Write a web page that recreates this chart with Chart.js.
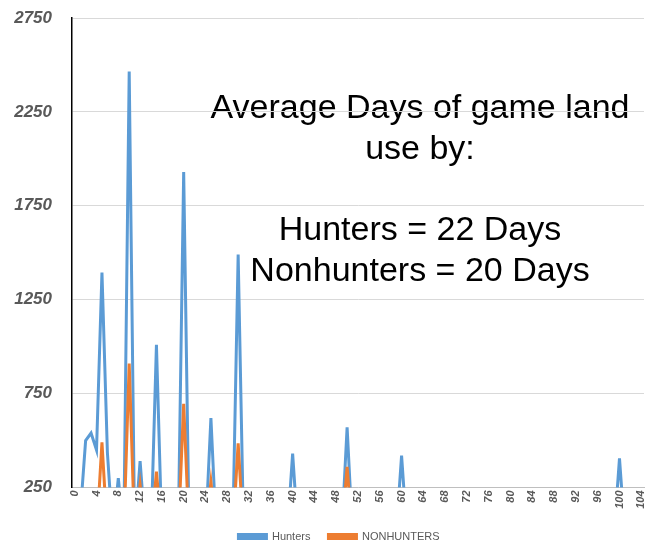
<!DOCTYPE html>
<html>
<head>
<meta charset="utf-8">
<script src="https://cdn.jsdelivr.net/npm/chart.js@4.4.1/dist/chart.umd.min.js"></script>
<style>
  html, body { margin: 0; padding: 0; background: #ffffff; }
  #wrap { width: 646px; height: 546px; position: relative; }
</style>
</head>
<body>
<div id="wrap"><canvas id="c" width="646" height="546"></canvas></div>
<script>
const categories = [0,1,2,3,4,5,6,7,8,9,10,11,12,13,14,15,16,17,18,19,20,21,22,23,24,25,26,27,28,29,30,31,32,33,34,35,36,37,38,39,40,41,42,43,44,45,46,47,48,49,50,51,52,53,54,55,56,57,58,59,60,61,62,63,64,65,66,67,68,69,70,71,72,73,74,75,76,77,78,79,80,81,82,83,84,85,86,87,88,89,90,91,92,93,94,95,96,97,98,99,100,101,102,103,104];

const hunters = [0,100,500,540,450,1395,435,0,300,0,2465,0,390,0,0,1010,0,0,0,0,1930,0,0,0,0,620,0,0,0,0,1490,0,0,0,0,0,0,0,0,0,430,0,0,0,0,0,0,0,0,0,570,0,0,0,0,0,0,0,0,0,420,0,0,0,0,0,0,0,0,0,0,0,0,0,0,0,0,0,0,0,0,0,0,0,0,0,0,0,0,0,0,0,0,0,0,0,0,0,0,0,405,0,0,0,0];

const nonhunters = [0,0,0,0,0,490,0,0,0,0,910,0,265,0,0,335,0,0,0,0,695,0,0,0,0,280,0,0,0,0,485,0,0,0,0,0,0,0,0,0,0,0,0,0,0,0,0,0,0,0,360,0,0,0,0,0,0,0,0,0,0,0,0,0,0,0,0,0,0,0,0,0,0,0,0,0,0,0,0,0,0,0,0,0,0,0,0,0,0,0,0,0,0,0,0,0,0,0,0,0,0,0,0,0,0];

const yTicks = [250, 750, 1250, 1750, 2250, 2750];

const noteLines = ["Average Days of game land", "use by:", "", "Hunters = 22 Days", "Nonhunters = 20 Days"];
const noteBaselines = [118, 158.5, 199, 240, 280.5];

const notePlugin = {
  id: 'note',
  afterLayout(chart) {
    if (chart.legend) { chart.legend.left += 17; chart.legend.right += 17; }
  },
  beforeDraw(chart) {
    const ctx = chart.ctx;
    ctx.save();
    ctx.fillStyle = '#ffffff';
    ctx.fillRect(0, 0, chart.width, chart.height);
    ctx.fillStyle = '#000000';
    ctx.font = '34px "Liberation Sans", Arial, sans-serif';
    ctx.textAlign = 'center';
    ctx.textBaseline = 'alphabetic';
    noteLines.forEach((t, i) => { if (t) ctx.fillText(t, 420, noteBaselines[i]); });
    ctx.restore();
  }
};

new Chart(document.getElementById('c'), {
  type: 'line',
  data: {
    labels: categories,
    datasets: [
      { label: 'Hunters', data: hunters, borderColor: '#5B9BD5', backgroundColor: '#5B9BD5', borderWidth: 3, pointRadius: 0, tension: 0, order: 1 },
      { label: 'NONHUNTERS', data: nonhunters, borderColor: '#ED7D31', backgroundColor: '#ED7D31', borderWidth: 3, pointRadius: 0, tension: 0, order: 0 }
    ]
  },
  options: {
    responsive: false,
    animation: false,
    devicePixelRatio: 1,
    layout: { padding: { left: 0, top: 18, right: 2, bottom: -6 } },
    plugins: {
      tooltip: { enabled: false },
      legend: {
        position: 'bottom',
        labels: {
          boxWidth: 28, boxHeight: 4, padding: 18,
          color: '#595959',
          font: { family: '"Liberation Sans", Arial, sans-serif', size: 11 },
          sort: (a, b) => a.datasetIndex - b.datasetIndex
        }
      }
    },
    scales: {
      x: {
        type: 'category',
        offset: true,
        grid: { display: false, drawTicks: false },
        border: { display: true, color: '#bfbfbf', width: 1 },
        ticks: {
          autoSkip: false, minRotation: 90, maxRotation: 90, padding: 3,
          color: '#595959',
          font: { family: '"Liberation Sans", Arial, sans-serif', size: 11, style: 'italic', weight: 'bold' },
          callback: function(v, i) { return i % 4 === 0 ? String(categories[i]) : ''; }
        },
        afterFit(scale) { scale.height = 25.5; scale.paddingLeft = 0; scale.paddingRight = 0; }
      },
      y: {
        min: 250, max: 2750,
        grid: { color: '#d9d9d9', lineWidth: 1, drawTicks: false },
        border: { display: true, color: '#000000', width: 1.5 },
        afterBuildTicks(scale) { scale.ticks = yTicks.map(v => ({ value: v })); },
        ticks: {
          padding: 20,
          color: '#595959',
          font: { family: '"Liberation Sans", Arial, sans-serif', size: 17, style: 'italic', weight: 'bold' },
          callback: function(v) { return String(v); }
        },
        afterFit(scale) { scale.width = 72; scale.paddingTop = 0; scale.paddingBottom = 0; }
      }
    }
  },
  plugins: [notePlugin]
});
</script>
</body>
</html>
